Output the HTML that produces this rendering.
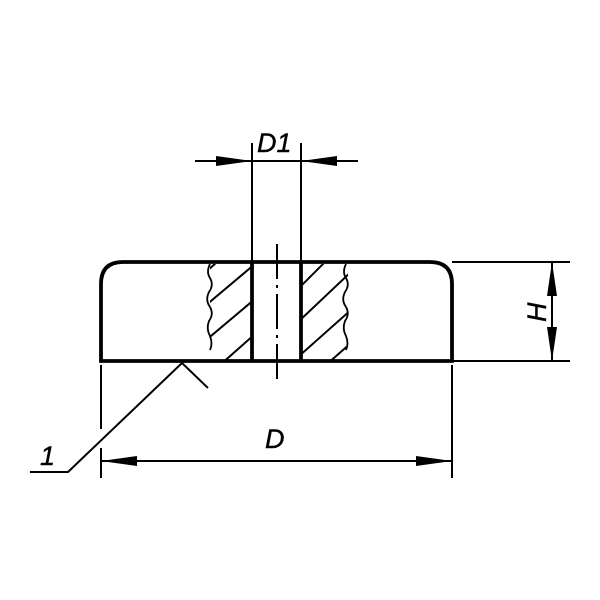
<!DOCTYPE html>
<html><head><meta charset="utf-8"><style>
html,body{margin:0;padding:0;background:#fff;}
svg{display:block;}
text{font-family:"Liberation Sans",sans-serif;font-style:italic;fill:#000;stroke:#000;stroke-width:0.4;}
</style></head><body>
<svg width="600" height="600" viewBox="0 0 600 600" xmlns="http://www.w3.org/2000/svg">
<defs>
<clipPath id="cl"><rect x="210" y="264" width="41" height="96"/></clipPath>
<clipPath id="cr"><rect x="302" y="264" width="46" height="96"/></clipPath>
</defs>
<g stroke="#000" fill="none">
<path d="M101,361 L101,284 Q101,262 123,262 L430,262 Q452,262 452,284 L452,361 Z" stroke-width="3.8"/>
<line x1="452" y1="262" x2="570" y2="262" stroke-width="2"/>
<line x1="452" y1="361" x2="570" y2="361" stroke-width="2"/>
<line x1="252" y1="262" x2="252" y2="361" stroke-width="3.8"/>
<line x1="301" y1="262" x2="301" y2="361" stroke-width="3.8"/>
<line x1="252" y1="143" x2="252" y2="262" stroke-width="2"/>
<line x1="301" y1="143" x2="301" y2="262" stroke-width="2"/>
<line x1="277" y1="244" x2="277" y2="381" stroke-width="2" stroke-dasharray="35,6,3,6"/>
<path d="M210,264 q-4,8 0,14 q4,7 -1,14 q-4,8 1,15 q4,7 -1,14 q-3,8 1,15 q3,8 0,14" stroke-width="1.8"/>
<path d="M346,264 q-4,8 0,14 q4,7 -1,14 q-4,8 1,15 q4,7 -1,14 q-3,8 1,15 q3,8 0,14" stroke-width="1.8"/>
<g clip-path="url(#cl)" stroke-width="2">
<line x1="205" y1="306" x2="255" y2="264"/>
<line x1="205" y1="341" x2="255" y2="299"/>
<line x1="220" y1="365" x2="255" y2="334"/>
<line x1="207" y1="271" x2="217" y2="262"/>
</g>
<g clip-path="url(#cr)" stroke-width="2">
<line x1="298" y1="289" x2="325" y2="262"/>
<line x1="298" y1="322" x2="352" y2="271"/>
<line x1="298" y1="357" x2="352" y2="309"/>
<line x1="326" y1="365" x2="352" y2="342"/>
</g>
<line x1="195" y1="161" x2="358" y2="161" stroke-width="2"/>
<line x1="552" y1="262" x2="552" y2="361" stroke-width="2"/>
<line x1="101" y1="365" x2="101" y2="429" stroke-width="2"/>
<line x1="101" y1="448" x2="101" y2="478" stroke-width="2"/>
<line x1="452" y1="365" x2="452" y2="478" stroke-width="2"/>
<line x1="101" y1="461" x2="452" y2="461" stroke-width="2"/>
<polyline points="30,472 68,472 182,363 208,388" stroke-width="2"/>
</g>
<g fill="#000">
<polygon points="252,161 216,156 216,166"/>
<polygon points="301,161 337,156 337,166"/>
<polygon points="552,262 547,296 557,296"/>
<polygon points="552,361 547,327 557,327"/>
<polygon points="101,461 137,456 137,466"/>
<polygon points="452,461 416,456 416,466"/>
</g>
<text x="257" y="152" font-size="27">D1</text>
<text x="265" y="448" font-size="27">D</text>
<text x="40" y="465" font-size="27">1</text>
<text x="0" y="0" font-size="27" transform="translate(546,322) rotate(-90)">H</text>
</svg>
</body></html>
